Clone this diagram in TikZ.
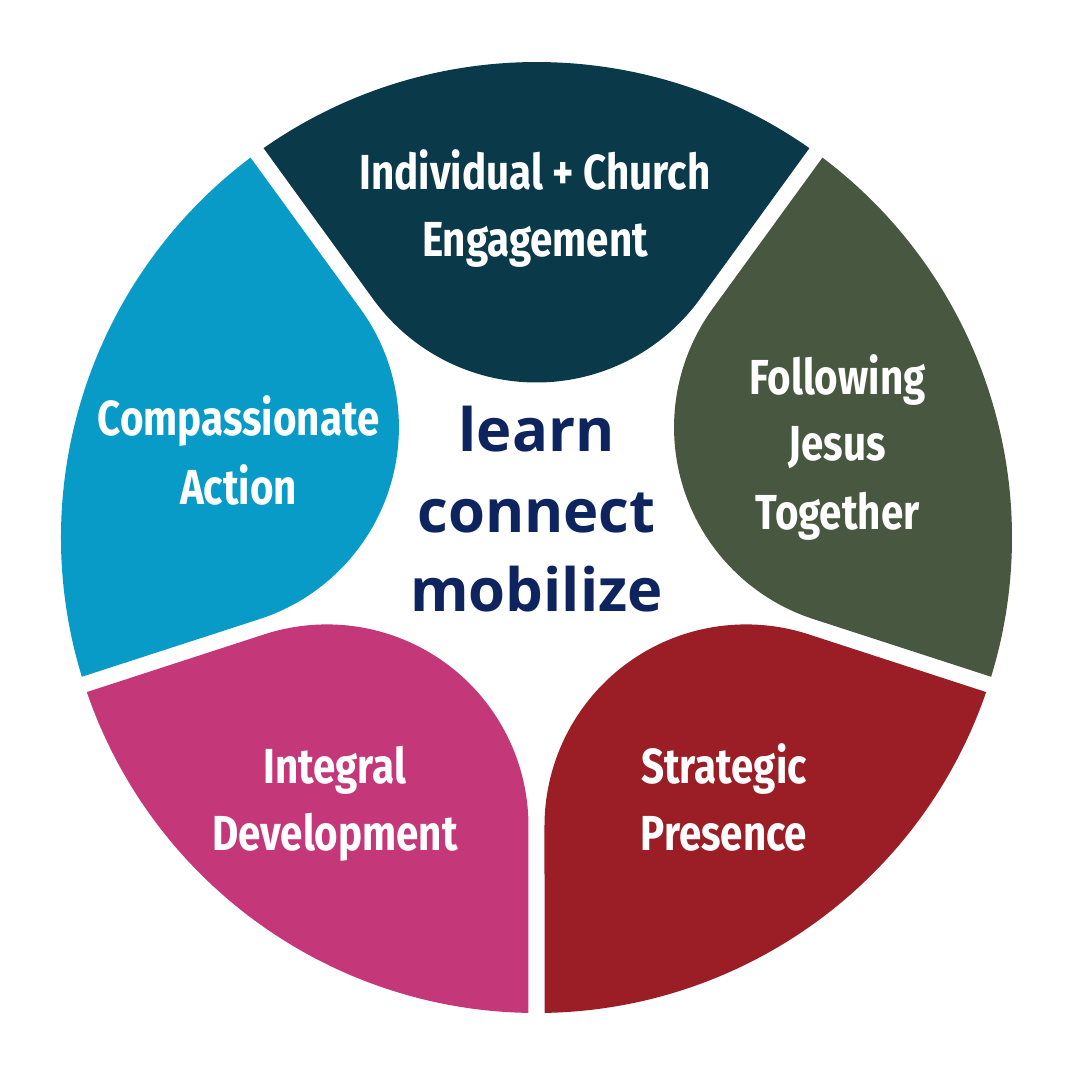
\documentclass[tikz,border=0pt]{standalone}
\usepackage{fontspec}
\newfontfamily\segfont{Fira Sans}[FakeStretch=0.82]
\newfontfamily\ctrfont{Open Sans}
\definecolor{topc}{RGB}{10,58,74}
\definecolor{greenc}{RGB}{71,87,64}
\definecolor{redc}{RGB}{155,30,38}
\definecolor{pinkc}{RGB}{196,56,122}
\definecolor{cyanc}{RGB}{8,155,200}
\definecolor{navy}{RGB}{14,36,94}
\newcommand\petalshape[2]{%
  \begin{scope}[rotate=#2]
  \fill[#1] (125.03:475.5) -- (-163.12,238.13)
     arc[start angle=216,end angle=324,radius=201.63]
     -- (54.97:475.5)
     arc[start angle=54.97,end angle=125.03,radius=475.5] -- cycle;
  \end{scope}}
\begin{document}
\begin{tikzpicture}[x=0.1mm,y=0.1mm,
  lbl/.style={text=white,font=\segfont\bfseries\fontsize{14}{16}\selectfont,anchor=base,inner sep=0pt},
  ctr/.style={text=navy,font=\ctrfont\bfseries\fontsize{17}{20}\selectfont,anchor=base,inner sep=0pt}]
\fill[white] (-536.5,-542.5) rectangle (543.5,537.5);
\useasboundingbox (-536.5,-542.5) rectangle (543.5,537.5);
\petalshape{topc}{0}
\petalshape{greenc}{-72}
\petalshape{redc}{-144}
\petalshape{pinkc}{144}
\petalshape{cyanc}{72}
% labels
\node[lbl] (t1) at (-1.5,348.2) {Individual + Church};
\node[lbl] (t2) at (-1.5,280.8) {Engagement};
\node[lbl] (c1) at (-298,102.2) {Compassionate};
\node[lbl] (c2) at (-298,32.7) {Action};
\node[lbl] (g1) at (301,143.5) {Following};
\node[lbl] (g2) at (301,77.5) {Jesus};
\node[lbl] (g3) at (301,8.5) {Together};
\node[lbl] (r1) at (187.5,-246.2) {Strategic};
\node[lbl] (r2) at (187.5,-313.1) {Presence};
\node[lbl] (p1) at (-201.5,-246.2) {Integral};
\node[lbl] (p2) at (-201.5,-313.1) {Development};
% centre
\node[ctr] (m1) at (0,85.8) {learn};
\node[ctr] (m2) at (0,4.8) {connect};
\node[ctr] (m3) at (0,-74.2) {mobilize};
\end{tikzpicture}
\end{document}
